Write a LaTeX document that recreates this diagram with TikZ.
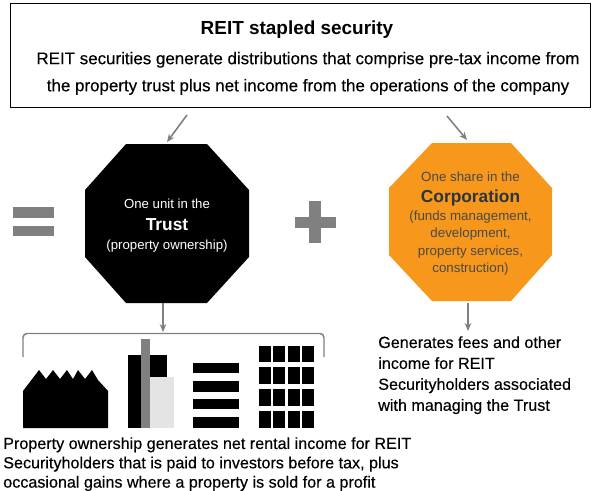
\documentclass[tikz,border=0pt]{standalone}
\usepackage{fontspec}
\setmainfont{Liberation Sans}
\newfontfamily\heavy[FakeBold=0.3]{Liberation Sans}
\usetikzlibrary{arrows.meta}
\definecolor{arrowgrey}{HTML}{808080}
\definecolor{orangefill}{HTML}{F7981D}
\definecolor{corptext}{HTML}{4A4A45}
\definecolor{corpbold}{HTML}{2B3440}
\definecolor{lightblock}{HTML}{E4E4E4}
\newcommand{\fs}[1]{\fontsize{#1}{#1}\selectfont}
\tikzset{
  conn/.style={draw=arrowgrey,line width=1.2pt,-{Stealth[length=6pt,width=5pt]}},
  octanode/.style={minimum width=123pt,minimum height=119pt,inner sep=0pt,align=center},
  para/.style={anchor=north west,align=left,inner sep=0pt},
  greybar/.style={fill=arrowgrey},
  blk/.style={fill=black}
}
\begin{document}
\begin{tikzpicture}[x=0.75pt,y=-0.75pt]
\useasboundingbox (0,0) rectangle (600,490);
% header box
\node[draw=black,line width=0.6pt,minimum width=435pt,minimum height=78pt,inner sep=0pt,align=center] (head) at (300,55) {};
\node[font=\fs{14.2}\bfseries] (title) at (297,30) {REIT stapled security};
\node[font=\heavy\fs{12.7},align=center] (body) at (308,71.5) {\rule{0pt}{12pt}REIT securities generate distributions that comprise pre-tax income from\\[7.6pt]the property trust plus net income from the operations of the company};
% octagons
\fill[black] (126,144)--(207,144)--(249,190)--(249,257)--(207,303)--(126,303)--(85,257)--(85,190)--cycle;
\node[octanode,text=white] (trust) at (167,225.5) {\fs{9.9}One unit in the\\[4.25pt]{\fs{13}\bfseries Trust}\\[2pt]\fs{9.9}(property ownership)};
\fill[orangefill] (432,143)--(511,143)--(552,188)--(552,255)--(511,301)--(432,301)--(389,255)--(389,188)--cycle;
\node[octanode,text=corptext] (corp) at (470.5,223.5) {\fs{10}One share in the\\[4.25pt]{\fs{13}\bfseries\color{corpbold}Corporation}\\[1.25pt]\fs{10}(funds management,\\[1pt]\fs{10}development,\\[1pt]\fs{10}property services,\\[1pt]\fs{10}construction)};
% free ends
\coordinate (t0) at (187,115);
\coordinate (t1) at (167,142);
\coordinate (c0) at (447,116);
\coordinate (c1) at (467,140);
\coordinate (b1) at (163,332);
\coordinate (b0) at (163,303);
\coordinate (g0) at (468,303);
\coordinate (g1) at (468,331);
\draw[conn] (t0) -- (t1);
\draw[conn] (c0) -- (c1);
\draw[conn] (b0) -- (b1);
\draw[conn] (g0) -- (g1);
% bracket
\draw[arrowgrey,line width=1.1pt,rounded corners=3pt] (23,357) -- (23,333.5) -- (324,333.5) -- (324,357);
% equals and plus
\fill[greybar] (13,207) rectangle (54,218);
\fill[greybar] (13,226) rectangle (54,236);
\fill[greybar] (295,217) rectangle (336,228);
\fill[greybar] (309,201) rectangle (321,243);
% building one
\fill[blk] (23,428)--(23,391)--(39,370)--(46,379)--(53,370)--(60,379)--(67,370)--(73,379)--(78,370)--(85,379)--(92,370)--(98,380)--(108,391)--(108,428)--cycle;
% building two
\fill[blk] (128,355) rectangle (167,428);
\fill[lightblock] (150,377) rectangle (174,428);
\fill[greybar] (141,339) rectangle (150,428);
% building three
\foreach \a/\b in {363/373,381/392,399/409,417/428}{\fill[blk] (193,\a) rectangle (239,\b);}
% building four
\foreach \xa/\xb in {259/271,273/285,288/300,302/314}{
  \foreach \ya/\yb in {346/362,367/384,389/406,411/428}{
    \fill[blk] (\xa,\ya) rectangle (\xb,\yb);
  }
}
% captions
\node[para,font=\heavy\fs{12.1}] (ownertext) at (3,437) {Property ownership generates net rental income for REIT\\[2.4pt]Securityholders that is paid to investors before tax, plus\\[2.4pt]occasional gains where a property is sold for a profit};
\node[para,font=\heavy\fs{12.1}] (feetext) at (378,336) {Generates fees and other\\[3.6pt]income for REIT\\[3.6pt]Securityholders associated\\[3.6pt]with managing the Trust};
\end{tikzpicture}
\end{document}
